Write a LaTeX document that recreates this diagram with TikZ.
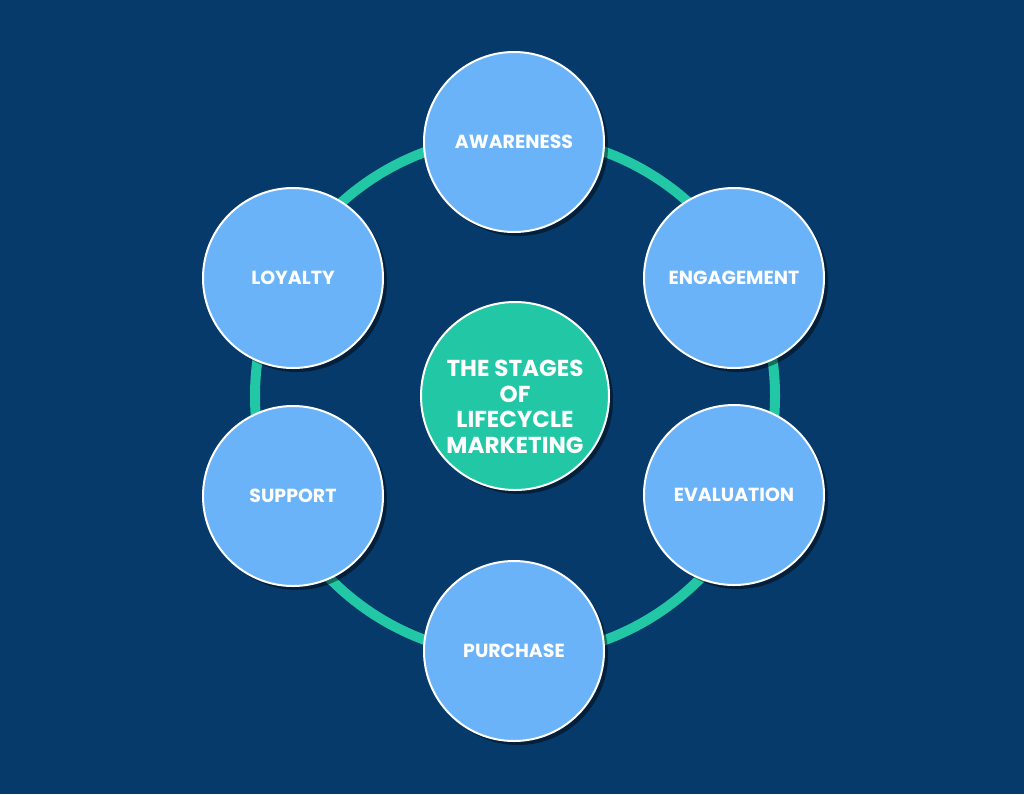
\documentclass[tikz,border=0pt]{standalone}
\usepackage{fontspec}
\setmainfont{Poppins}
\usetikzlibrary{shadows}

\definecolor{bgblue}{HTML}{063A6B}
\definecolor{stageblue}{HTML}{6BB3F9}
\definecolor{ringgreen}{HTML}{22C8A6}

\tikzset{
  stage/.style={circle, draw=white, line width=1.5pt, fill=stageblue,
    minimum size=135pt, inner sep=0pt, text=white,
    font=\bfseries\fontsize{14.2}{16}\selectfont,
    drop shadow={shadow xshift=3pt, shadow yshift=-3pt, opacity=0.45, fill=black}},
  hub/.style={stage, fill=ringgreen, minimum size=141pt},
  hubtext/.style={text=white, align=center, inner sep=0pt,
    font=\bfseries\fontsize{17.3}{19.2}\selectfont},
  ring/.style={draw=ringgreen, line width=7.5pt}
}

\begin{document}
\begin{tikzpicture}[x=0.75pt,y=-0.75pt]
  \fill [bgblue] (0,0) rectangle (1024,794);
  \useasboundingbox (0,0) rectangle (1024,794);

  % ring behind the stages
  \coordinate (c) at (515,396);
  \draw [ring] (c) circle [radius=260];

  \node [hub, label={[hubtext, yshift=-8pt]center:{THE STAGES\\OF\\LIFECYCLE\\MARKETING}}] (hub) at (c) {};

  \node [stage] (awareness)  at (514,142) {AWARENESS};
  \node [stage] (engagement) at (734,278) {ENGAGEMENT};
  \node [stage] (evaluation) at (734,495) {EVALUATION};
  \node [stage] (purchase)   at (514,651) {PURCHASE};
  \node [stage] (support)    at (293,496) {SUPPORT};
  \node [stage] (loyalty)    at (293,278) {LOYALTY};
\end{tikzpicture}
\end{document}
